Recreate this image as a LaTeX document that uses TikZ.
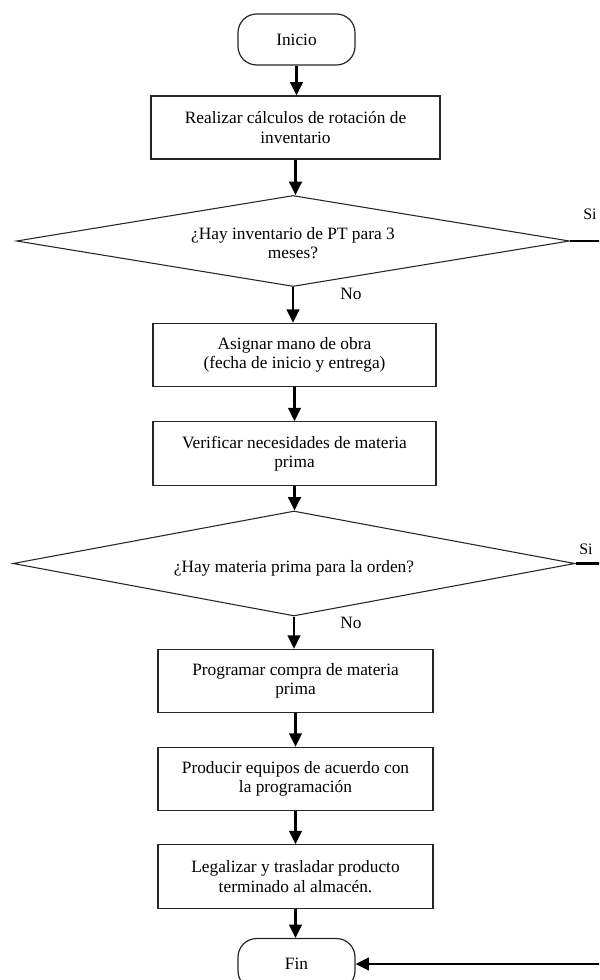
\documentclass[tikz,border=0pt]{standalone}
\usepackage{fontspec}
\setmainfont{Liberation Serif}
\usetikzlibrary{shapes.geometric,arrows.meta}
\begin{document}
\begin{tikzpicture}[x=0.75pt,y=-0.75pt,
  txt/.style={font=\fontsize{13}{14.5}\selectfont, align=center, inner sep=0pt},
  procbox/.style={txt, draw=black!85, line width=0.9pt, rectangle},
  wide/.style={minimum width=216.75pt, minimum height=47.25pt},
  mid/.style={minimum width=212.25pt, minimum height=47.6pt},
  narrow/.style={minimum width=206.25pt, minimum height=47.6pt},
  terminal/.style={txt, draw=black!85, line width=0.9pt, rectangle,
    rounded corners=14pt, minimum width=87.75pt, minimum height=38.25pt},
  decision/.style={draw=black!85, line width=0.8pt, diamond, inner sep=0pt},
  flow/.style={line width=1.9pt, -{Triangle[length=10pt,width=9.5pt]}},
  flowline/.style={line width=1.9pt},
  tag/.style={font=\fontsize{13}{14.5}\selectfont, inner sep=0pt},
  smalltag/.style={font=\fontsize{12}{13}\selectfont, inner sep=0pt}
]
\useasboundingbox (0,0) rectangle (599,980);
\clip (0,0) rectangle (599,980);

% terminals and process boxes
\node[terminal] (ini) at (296.5,39.5) {Inicio};
\node[procbox,wide] (b1) at (295.5,127.5) {Realizar cálculos de rotación de\\inventario};

% first decision
\node[decision, minimum width=414.75pt, minimum height=68.25pt] (d1) at (293,241) {};
\node[txt] (d1t) at (293,243) {¿Hay inventario de PT para 3\\meses?};

\node[procbox,mid] (b2) at (294.5,355) {Asignar mano de obra\\(fecha de inicio y entrega)};
\node[procbox,mid] (b3) at (294.5,453.5) {Verificar necesidades de materia\\prima};

% second decision
\node[decision, minimum width=421.5pt, minimum height=78.75pt] (d2) at (294,563.5) {};
\node[txt] (d2t) at (294,568) {¿Hay materia prima para la orden?};

\node[procbox,narrow] (b4) at (295.5,681) {Programar compra de materia\\prima};
\node[procbox,narrow] (b5) at (295.5,779) {Producir equipos de acuerdo con\\la programación};
\node[procbox,narrow] (b6) at (295.5,876.5) {Legalizar y trasladar producto\\terminado al almacén.};
\node[terminal] (fin) at (296.5,964) {Fin};

% branch labels
\node[smalltag] (si1) at (590,214) {Si};
\node[tag] (no1) at (351,294) {No};
\node[smalltag] (si2) at (586,549) {Si};
\node[tag] (no2) at (351,623) {No};

% ends of the "Si" branches at the right margin
\coordinate (r1) at (600,241);
\coordinate (r2) at (600,563.5);
\coordinate (r3) at (600,964);

% main flow
\draw[flow] (ini.south) -- (ini.south |- b1.north);
\draw[flow] (b1.south) -- (b1.south |- d1.north);
\draw[flow] (d1.south) -- (d1.south |- b2.north);
\draw[flow] (b2.south) -- (b2.south |- b3.north);
\draw[flow] (b3.south) -- (b3.south |- d2.north);
\draw[flow] (d2.south) -- (d2.south |- b4.north);
\draw[flow] (b4.south) -- (b4.south |- b5.north);
\draw[flow] (b5.south) -- (b5.south |- b6.north);
\draw[flow] (b6.south) -- (b6.south |- fin.north);

% "Si" branches
\draw[flowline] (d1.east) -- (r1);
\draw[flowline] (d2.east) -- (r2);
\draw[flow] (r3) -- (fin.east);
\end{tikzpicture}
\end{document}
